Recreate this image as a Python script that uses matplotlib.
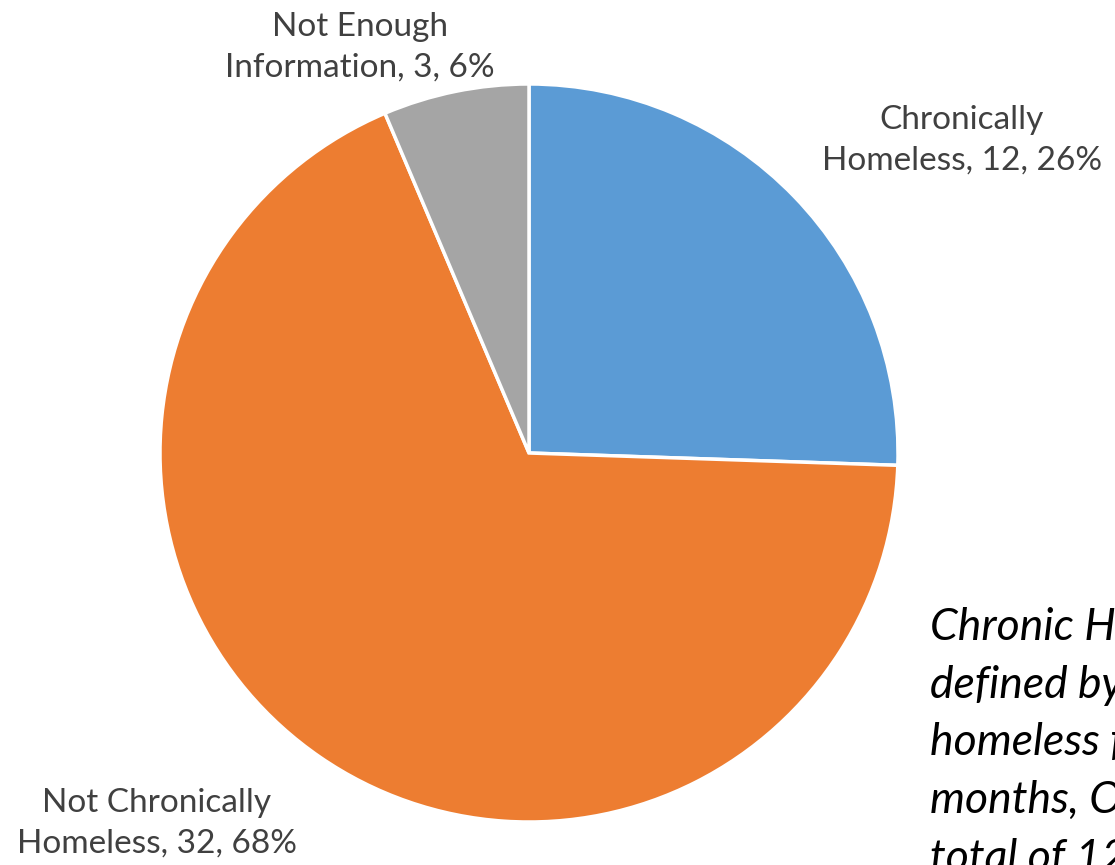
import matplotlib
matplotlib.use("Agg")
import matplotlib.pyplot as plt

categories = ["Chronically\nHomeless", "Not Chronically\nHomeless", "Not Enough\nInformation"]
counts = [12, 32, 3]
percents = [26, 68, 6]
colors = ["#5B9BD5", "#ED7D31", "#A5A5A5"]

note_lines = ["Chronic Homelessness is", "defined by being", "homeless for 12", "months, OR four times", "total of 12 months"]

fig = plt.figure(figsize=(11.15, 8.65), dpi=100)
ax = fig.add_axes([160 / 1115, 43 / 865, 738 / 1115, 738 / 865])

ax.pie(counts, colors=colors, startangle=90, counterclock=False, radius=1,
       wedgeprops=dict(edgecolor="white", linewidth=2.5))
ax.set_xlim(-1, 1)
ax.set_ylim(-1, 1)
ax.set_aspect("equal")
ax.axis("off")

# label positions in pie units (centre = 0,0, radius = 1)
label_pos = [(1.173, 0.848), (-1.008, -1.003), (-0.458, 1.100)]
for name, n, p, (x, y) in zip(categories, counts, percents, label_pos):
    ax.text(x, y, f"{name}, {n}, {p}%", ha="center", va="center",
            fontsize=24, color="#404040", family="Lato", linespacing=1.45,
            clip_on=False)

for i, line in enumerate(note_lines):
    fig.text(930 / 1115, 1 - (628 + i * 57.5) / 865, line, ha="left", va="center",
             fontsize=32, style="italic", family="Lato", color="black")

fig.savefig("out.png", dpi=100)
